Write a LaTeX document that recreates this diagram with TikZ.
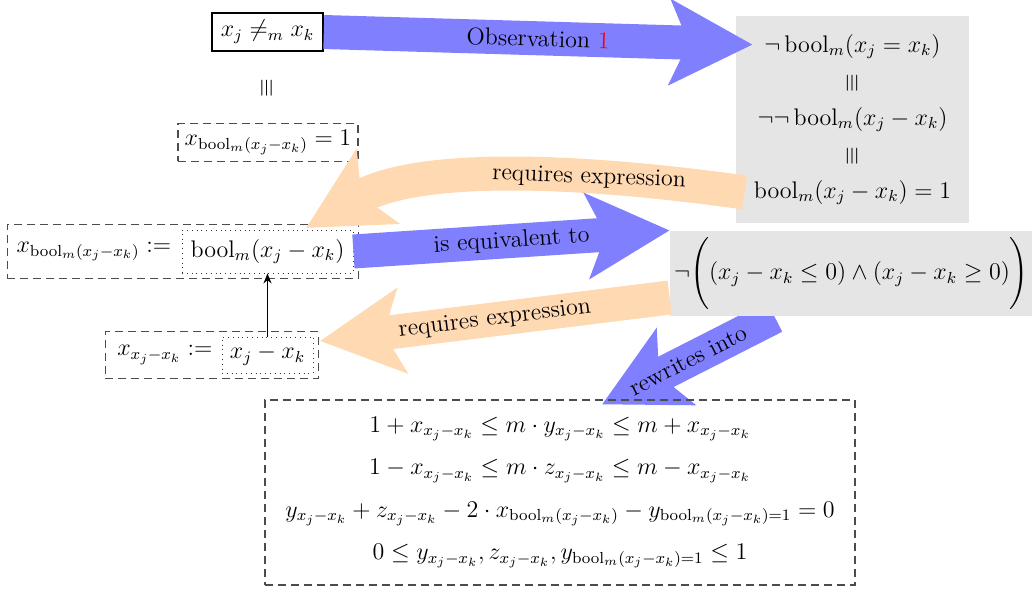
\documentclass[tikz,border=0pt]{standalone}
\usepackage{xcolor}
\usepackage{amsmath}
\usepackage{amssymb}
\usepackage{tikz}
\usetikzlibrary{arrows.meta, positioning, calc, fit, backgrounds}

\newcommand{\boolm}{\mathrm{bool}_m}
\newcommand{\xdiff}{x_j - x_k}

\begin{document}
\begin{tikzpicture}[
    x=0.5pt, y=0.5pt,
    every node/.style={font=\fontsize{12}{14}\selectfont},
    solidbox/.style={rectangle, draw, thick},
    dashbox/.style={rectangle, draw=black!70, semithick, dash pattern=on 4pt off 2.5pt},
    dotbox/.style={rectangle, draw=black!80, dotted},
    graybox/.style={rectangle, fill=black!10},
    bigarrow/.style={line width=17pt, -{Stealth[length=41pt, width=42pt, inset=9pt]}},
    bluearrow/.style={bigarrow, draw=blue!50},
    orangearrow/.style={bigarrow, draw=orange!30},
    lbl/.style={sloped, text=black}
]
\useasboundingbox (0,0) rectangle (1032,-590);

% left column
\node[solidbox, minimum width=55.5pt, minimum height=19pt] (neq) at (267.5,-32) {$x_j \neq_m x_k$};
\node[rotate=90] (eqa) at (267,-88) {$\equiv$};
\node[dashbox, minimum width=90pt, minimum height=17.5pt] (xone) at (268,-142.5) {$x_{\boolm(\xdiff)} = 1$};

\node[dotbox, minimum width=85.5pt, minimum height=21.5pt] (boolexpr) at (267.5,-251.5) {$\boolm(\xdiff)$};
\node[left=3pt of boolexpr, inner sep=2pt] (boolvar) {$x_{\boolm(\xdiff)} :=$};
\node[dashbox, fit=(boolvar)(boolexpr), inner sep=2.5pt] (booldef) {};

\node[dotbox, minimum width=45.5pt, minimum height=18pt] (xexpr) at (267.5,-355) {$\xdiff$};
\node[left=1pt of xexpr] (xvar) {$x_{\xdiff} :=$};
\node[dashbox, fit=(xvar)(xexpr), inner sep=2.5pt] (xdef) {};

% right column
\node[graybox, minimum width=116.5pt, minimum height=103.5pt, align=center,
      font=\fontsize{12}{18.25}\selectfont] (chain) at (852.5,-119.5)
    {$\neg\,\boolm(x_j = x_k)$\\ \rotatebox[origin=c]{90}{$\equiv$}\\
     $\neg\neg\,\boolm(\xdiff)$\\ \rotatebox[origin=c]{90}{$\equiv$}\\
     $\boolm(\xdiff) = 1$};
\node[graybox, minimum width=178.5pt, minimum height=39.5pt, inner xsep=2pt] (neg) at (851.5,-273.5)
    {$\neg\Biggl((\xdiff \le 0) \wedge (\xdiff \ge 0)\Biggr)$};

% linear constraints
\node[dashbox, minimum width=295pt, minimum height=92.5pt, align=center,
      font=\fontsize{12}{21.25}\selectfont] (lp) at (560,-492.5)
    {$1 + x_{\xdiff} \le m \cdot y_{\xdiff} \le m + x_{\xdiff}$\\
     $1 - x_{\xdiff} \le m \cdot z_{\xdiff} \le m - x_{\xdiff}$\\
     $y_{\xdiff} + z_{\xdiff} - 2 \cdot x_{\boolm(\xdiff)} - y_{\boolm(\xdiff)=1} = 0$\\
     $0 \le y_{\xdiff}, z_{\xdiff}, y_{\boolm(\xdiff)=1} \le 1$};

% big arrows
\draw[bluearrow] (neq.east) -- node[lbl] {Observation \textcolor{red}{1}} ($(chain.north west)+(17,-29)$);
\draw[orangearrow] ($(chain.west)+(9,-73)$) to[out=172, in=30, looseness=0.8]
    node[lbl, pos=0.35] {requires expression} ($(booldef.north east)+(-53,-4)$);
\draw[bluearrow] (boolexpr.east) -- node[lbl] {is equivalent to} (neg.north west);
\draw[orangearrow] ($(neg.west)+(0,-24)$) -- node[lbl] {requires expression} ($(xdef.east)+(1,14)$);
\begin{pgfonlayer}{background}
\draw[bluearrow] ($(neg.south)+(-77,0)$) -- node[lbl] {rewrites into} ($(lp.north)+(42,-5)$);
\end{pgfonlayer}

\draw[-{Stealth[length=5pt, width=4pt]}, thick] (xexpr.north) -- (boolexpr.south);
\end{tikzpicture}
\end{document}
